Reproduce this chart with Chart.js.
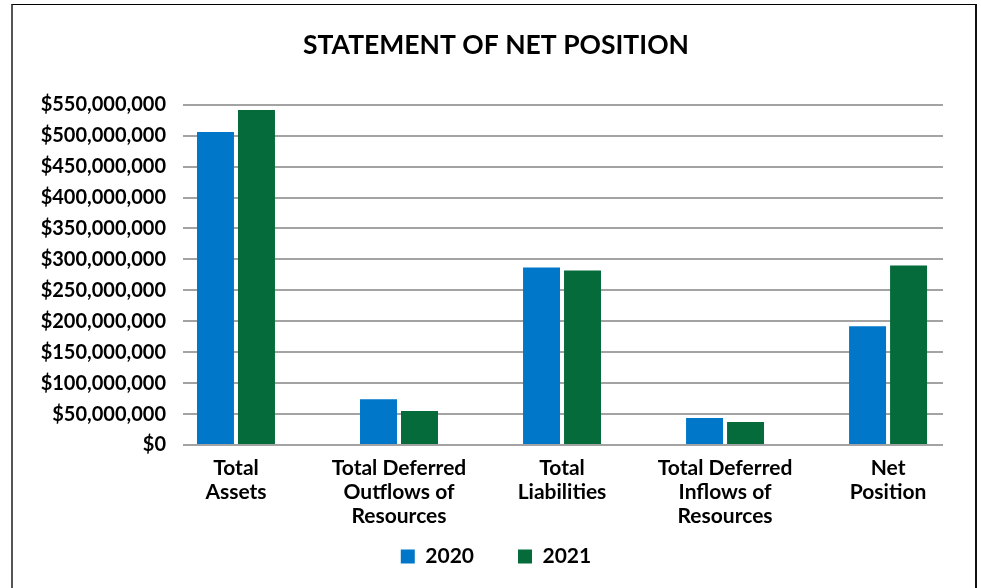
<!DOCTYPE html>
<html>
<head>
<meta charset="utf-8">
<script src="https://cdn.jsdelivr.net/npm/chart.js@4/dist/chart.umd.min.js"></script>
<style>
  html, body { margin: 0; padding: 0; background: #fff; overflow: hidden; }
  #wrap { position: relative; width: 981px; height: 588px; }
  #chart { display: block; }
  #frame { position: absolute; left: 11px; top: 4px; width: 962px; height: 640px;
           border-left: 2px solid #555; border-top: 1px solid #000; border-right: 2px solid #111;
           pointer-events: none; }
</style>
</head>
<body>
<div id="wrap">
  <canvas id="chart" width="981" height="588"></canvas>
  <div id="frame"></div>
</div>
<script>
const title = 'STATEMENT OF NET POSITION';
const categories = [
  ['Total', 'Assets'],
  ['Total Deferred', 'Outflows of', 'Resources'],
  ['Total', 'Liabilities'],
  ['Total Deferred', 'Inflows of', 'Resources'],
  ['Net', 'Position']
];
const seriesNames = ['2020', '2021'];
const values2020 = [506000000, 74000000, 287000000, 43500000, 192000000];
const values2021 = [541500000, 55000000, 282000000, 37000000, 290000000];
const seriesColors = ['#0077c8', '#056b3a'];
const yTickMax = 550000000;
const yTickStep = 50000000;

const FONT = "Lato, 'Open Sans', sans-serif";

function toPoints(arr) { return arr.map((v, i) => ({ x: i, y: v })); }

new Chart(document.getElementById('chart'), {
  type: 'bar',
  data: {
    datasets: [
      { label: seriesNames[0], data: toPoints(values2020), backgroundColor: seriesColors[0],
        categoryPercentage: 0.503, barPercentage: 0.902 },
      { label: seriesNames[1], data: toPoints(values2021), backgroundColor: seriesColors[1],
        categoryPercentage: 0.503, barPercentage: 0.902 }
    ]
  },
  options: {
    responsive: false,
    animation: false,
    events: [],
    layout: { padding: { top: 30, left: 11, right: 0, bottom: 11 } },
    plugins: {
      title: {
        display: true, text: title, color: '#000',
        font: { family: FONT, size: 26.5, weight: 'bold', lineHeight: '30px' },
        padding: { top: 0, bottom: 44.7 }
      },
      legend: {
        display: true, position: 'bottom',
        labels: {
          color: '#000', boxWidth: 14, boxHeight: 14, padding: 44,
          font: { family: FONT, size: 21, weight: 'bold' }
        }
      },
      tooltip: { enabled: false }
    },
    scales: {
      x: {
        type: 'linear',
        offset: false,
        min: -0.325, max: 4.337,
        afterBuildTicks: (s) => { s.ticks = categories.map((c, i) => ({ value: i })); },
        afterFit: (s) => { s.height = 57; },
        grid: { display: false, drawTicks: false, offset: false },
        border: { display: false },
        ticks: {
          mirror: true, padding: -35, maxRotation: 0, autoSkip: false, color: '#000',
          font: { family: FONT, size: 21, weight: 'bold', lineHeight: '24px' },
          callback: (v) => categories[v]
        }
      },
      y: {
        min: 0, max: yTickMax,
        afterFit: (s) => { s.width = 172; },
        grid: { color: '#a3a3a3', lineWidth: 2, drawTicks: false },
        border: { display: false },
        ticks: {
          stepSize: yTickStep, padding: 17, color: '#000',
          font: { family: FONT, size: 20, weight: 'bold' },
          callback: (v) => '$' + v.toLocaleString('en-US')
        }
      },
      yRight: {
        position: 'right', display: true,
        afterFit: (s) => { s.width = 38; },
        grid: { display: false, drawTicks: false },
        border: { display: false },
        ticks: { display: false }
      }
    }
  }
});
</script>
</body>
</html>
